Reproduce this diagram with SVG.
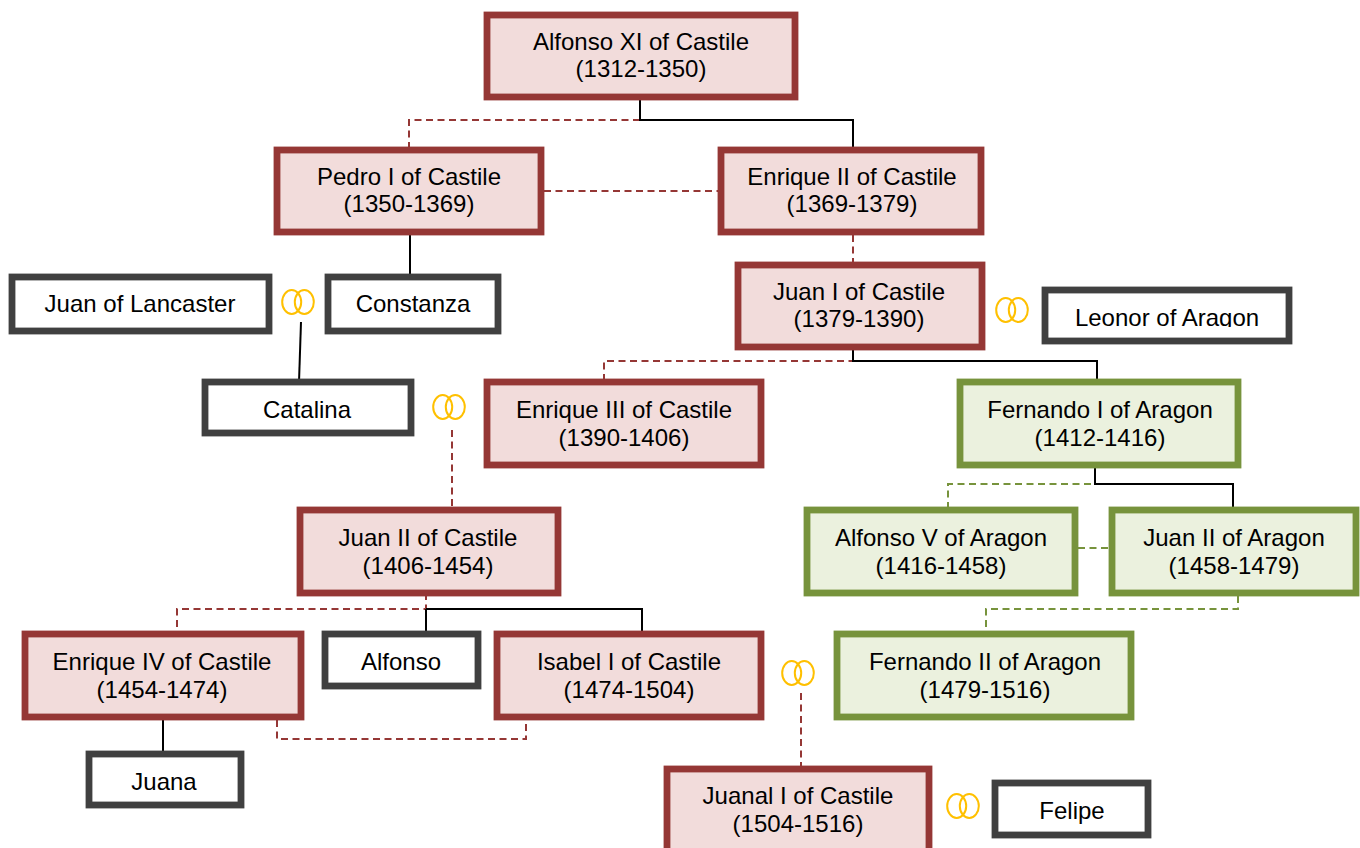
<svg xmlns="http://www.w3.org/2000/svg" width="1360" height="848" viewBox="0 0 1360 848">
<style>
text{font-family:"Liberation Sans",Arial,sans-serif;font-size:24px;fill:#000;text-anchor:middle}
.r rect{fill:#f2dcdb;stroke:#953735;stroke-width:6.8}
.g rect{fill:#ebf1de;stroke:#77933c;stroke-width:6.8}
.k rect{fill:#fff;stroke:#404040;stroke-width:6.8}
#connectors path{fill:none;stroke-width:2}
#connectors .dr{stroke:#953735;stroke-dasharray:7 4.500}
#connectors .dg{stroke:#77933c;stroke-dasharray:7 4.500}
.s{stroke:#000}
.ring ellipse{fill:none;stroke:#ffc000;stroke-width:2}
</style>
<defs>
<g id="rings" class="ring"><ellipse cx="-6.300" cy="0" rx="9.500" ry="12"/><ellipse cx="6.300" cy="0" rx="9.500" ry="12"/></g>
<clipPath id="leo"><rect x="1048" y="293" width="238" height="34"/></clipPath>
</defs>
<g id="connectors">
<path class="dr" d="M640 97V120H409V147"/>
<path class="s" d="M640 97V120H853V147"/>
<path class="dr" d="M544 191H718"/>
<path class="dr" d="M853 235V262"/>
<path class="s" d="M410 232V277"/>
<path class="s" d="M301 322L299 382"/>
<path class="dr" d="M853 347V361H604V379"/>
<path class="s" d="M853 347V361H1097V382"/>
<path class="dg" d="M1095 465V484H948V507"/>
<path class="s" d="M1095 465V484H1233V507"/>
<path class="dg" d="M1078 548H1109"/>
<path class="dg" d="M1238 596V609H986V631"/>
<path class="dr" d="M452 430V507"/>
<path class="dr" d="M426 593V609H177V631"/>
<path class="s" d="M426 609H642V634"/>
<path class="s" d="M426 609V634"/>
<path class="s" d="M163 717V754"/>
<path class="dr" d="M277 720V739H526V720"/>
<path class="dr" d="M801 693V766"/>
</g>
<g id="alfonso-xi" class="r"><rect x="487" y="15" width="308" height="82"/><text x="641" y="50">Alfonso XI of Castile</text><text x="641" y="77">(1312-1350)</text></g>
<g id="pedro-i" class="r"><rect x="277" y="150" width="264" height="82"/><text x="409" y="185">Pedro I of Castile</text><text x="409" y="212">(1350-1369)</text></g>
<g id="enrique-ii" class="r"><rect x="721" y="150" width="260" height="82"/><text x="852" y="185">Enrique II of Castile</text><text x="852" y="212">(1369-1379)</text></g>
<g id="juan-i" class="r"><rect x="738" y="265" width="244" height="82"/><text x="859" y="300">Juan I of Castile</text><text x="859" y="327">(1379-1390)</text></g>
<g id="juan-lancaster" class="k"><rect x="12" y="277" width="257" height="54"/><text x="140" y="312">Juan of Lancaster</text></g>
<g id="constanza" class="k"><rect x="328" y="277" width="170" height="54"/><text x="413" y="312">Constanza</text></g>
<g id="leonor" class="k"><rect x="1045" y="290" width="244" height="51"/><text x="1167" y="326" clip-path="url(#leo)">Leonor of Aragon</text></g>
<g id="catalina" class="k"><rect x="205" y="382" width="206" height="51"/><text x="307" y="418">Catalina</text></g>
<g id="enrique-iii" class="r"><rect x="487" y="382" width="274" height="83"/><text x="624" y="418">Enrique III of Castile</text><text x="624" y="446">(1390-1406)</text></g>
<g id="fernando-i" class="g"><rect x="960" y="382" width="278" height="83"/><text x="1100" y="418">Fernando I of Aragon</text><text x="1100" y="446">(1412-1416)</text></g>
<g id="juan-ii-castile" class="r"><rect x="300" y="510" width="258" height="83"/><text x="428" y="546">Juan II of Castile</text><text x="428" y="574">(1406-1454)</text></g>
<g id="alfonso-v" class="g"><rect x="807" y="510" width="268" height="83"/><text x="941" y="546">Alfonso V of Aragon</text><text x="941" y="574">(1416-1458)</text></g>
<g id="juan-ii-aragon" class="g"><rect x="1112" y="510" width="244" height="83"/><text x="1234" y="546">Juan II of Aragon</text><text x="1234" y="574">(1458-1479)</text></g>
<g id="enrique-iv" class="r"><rect x="25" y="634" width="276" height="83"/><text x="162" y="670">Enrique IV of Castile</text><text x="162" y="698">(1454-1474)</text></g>
<g id="alfonso" class="k"><rect x="325" y="634" width="153" height="52"/><text x="401" y="670">Alfonso</text></g>
<g id="isabel" class="r"><rect x="497" y="634" width="264" height="83"/><text x="629" y="670">Isabel I of Castile</text><text x="629" y="698">(1474-1504)</text></g>
<g id="fernando-ii" class="g"><rect x="837" y="634" width="294" height="83"/><text x="985" y="670">Fernando II of Aragon</text><text x="985" y="698">(1479-1516)</text></g>
<g id="juana" class="k"><rect x="89" y="754" width="152" height="51"/><text x="164" y="790">Juana</text></g>
<g id="juanal-i" class="r"><rect x="667" y="769" width="262" height="83"/><text x="798" y="804">Juanal I of Castile</text><text x="798" y="832">(1504-1516)</text></g>
<g id="felipe" class="k"><rect x="995" y="783" width="153" height="52"/><text x="1072" y="819">Felipe</text></g>
<use href="#rings" x="298" y="302"/>
<use href="#rings" x="1012" y="310"/>
<use href="#rings" x="449" y="407"/>
<use href="#rings" x="798" y="673"/>
<use href="#rings" x="963" y="806"/>
</svg>
